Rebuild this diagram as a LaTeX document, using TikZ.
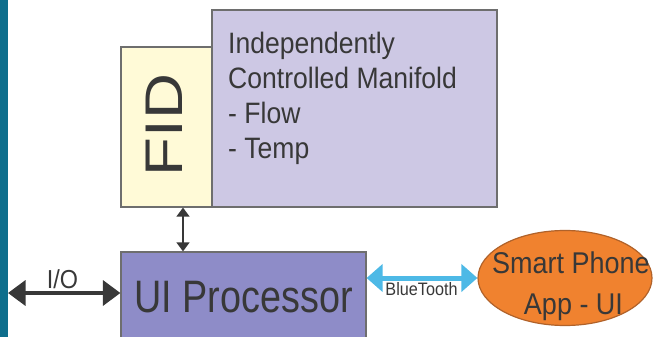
\documentclass[tikz,border=0pt]{standalone}
\usepackage{fontspec}
\usepackage{graphicx}
\setmainfont{Liberation Sans}
\newfontfamily\narrowsans[FakeStretch=0.9]{Liberation Sans}
\newfontfamily\tightsans[FakeStretch=0.83]{Liberation Sans}
\usetikzlibrary{arrows.meta,shapes.geometric}

\definecolor{sidebar}{HTML}{0E6E8C}
\definecolor{fidfill}{HTML}{FFFAD7}
\definecolor{manifill}{HTML}{CDC8E4}
\definecolor{procfill}{HTML}{8E8CC8}
\definecolor{edgegray}{HTML}{6E6E6E}
\definecolor{inkgray}{HTML}{383838}
\definecolor{phonefill}{HTML}{F0822F}
\definecolor{phoneedge}{HTML}{B0622A}
\definecolor{btblue}{HTML}{4DB9E6}

\tikzset{
  block/.style={draw=edgegray, line width=1.2pt, rectangle, inner sep=0pt},
  txt/.style={text=inkgray, inner sep=0pt},
  darrow/.style={draw=inkgray, {Triangle[length=#1*0.7pt,width=#1pt]}-{Triangle[length=#1*0.7pt,width=#1pt]}},
}

\begin{document}
\begin{tikzpicture}[x=1pt, y=-1pt]
  \useasboundingbox (0,0) rectangle (656,337);
  \clip (0,0) rectangle (656,337);

  % left edge band
  \fill[sidebar] (0,0) rectangle (8,337);

  % manifold block and FID block
  \node[block, fill=manifill, minimum width=285pt, minimum height=197pt] (manifold) at (354.5,108.5) {};
  \node[block, fill=fidfill, minimum width=91pt, minimum height=160pt] (fid) at (166.5,127) {};
  \node[txt, rotate=90, font=\fontsize{53}{53}\selectfont] (fidlabel) at (164,125) {\scalebox{1.2}[1]{FID}};
  \node[txt, anchor=north west, align=left, font={\narrowsans\fontsize{29.5}{35}\selectfont}] (manilabel) at (228,31.5)
    {Independently\\Controlled Manifold\\- Flow\\- Temp};

  % processor block
  \node[block, fill=procfill, minimum width=245pt, minimum height=96pt] (proc) at (243.5,300) {};
  \node[txt, anchor=base, font={\tightsans\fontsize{45.5}{46}\selectfont}] (proclabel) at (243.5,312) {UI Processor};

  % phone app
  \node[ellipse, draw=phoneedge, line width=1.2pt, fill=phonefill, minimum width=174pt, minimum height=95pt, inner sep=0pt] (phone) at (565,278) {};
  \node[txt, anchor=base, font={\narrowsans\fontsize{30}{30}\selectfont}] (phoneA) at (571,273) {Smart Phone};
  \node[txt, anchor=base, font={\narrowsans\fontsize{30}{30}\selectfont}] (phoneB) at (573.5,314) {App - UI};

  % FID <-> processor
  \coordinate (fidport) at ([xshift=16.5pt]fid.south);
  \draw[darrow=13, line width=1.8pt] (fidport) -- (fidport |- proc.north);

  % external I/O
  \coordinate (ioend) at (8,293);
  \draw[darrow=25, line width=3.5pt] (ioend) -- (ioend -| proc.west);
  \node[txt, anchor=base, font={\narrowsans\fontsize{26}{26}\selectfont}] (iolabel) at (62.5,288) {I/O};

  % BlueTooth link
  \draw[draw=btblue, line width=5pt, {Triangle[length=16pt,width=27pt]}-{Triangle[length=16pt,width=27pt]}] (phone.west -| proc.east) -- (phone.west);
  \node[txt, anchor=base, font={\narrowsans\fontsize{18}{18}\selectfont}] (btlabel) at (421.5,295) {BlueTooth};
\end{tikzpicture}
\end{document}
